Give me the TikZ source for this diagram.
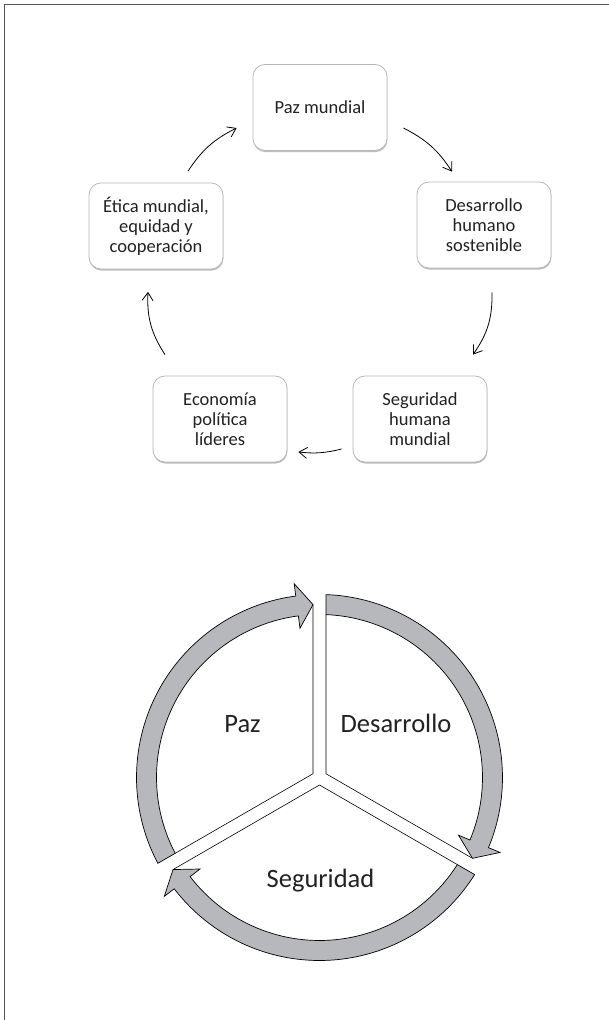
\documentclass[tikz,border=0pt]{standalone}
\usepackage{fontspec}
\setmainfont{Carlito}
\usetikzlibrary{arrows.meta,shadows,calc}
\definecolor{bandgray}{RGB}{183,184,187}
\definecolor{framecol}{RGB}{85,85,85}
\definecolor{txtcol}{RGB}{34,34,34}
\newcommand{\cyclearrow}[4]{%
  \draw[band] (#2:163pt) -- (#1:183pt) arc[start angle=#1, end angle=#3, radius=183pt]
    -- (#3:195.5pt) -- (#4:173pt) -- (#3:150.5pt) -- (#3:163pt)
    arc[start angle=#3, end angle=#2, radius=163pt] -- cycle;}
\begin{document}
\begin{tikzpicture}[x=1pt,y=1pt,
  box/.style={rectangle, rounded corners=12pt, minimum width=134pt, minimum height=86pt,
    inner sep=0pt, align=center, fill=white, draw=black!28, line width=0.8pt,
    text=txtcol, font=\fontsize{18.5}{20}\selectfont,
    drop shadow={shadow xshift=0.4pt, shadow yshift=-1.6pt, fill=black!45, opacity=0.55}},
  arr/.style={draw=black, line width=0.8pt, -{Straight Barb[length=8pt,width=11pt]}},
  band/.style={fill=bandgray, draw=black, line width=0.7pt, line join=miter},
  sect/.style={draw=black, line width=0.6pt},
  big/.style={text=txtcol, font=\fontsize{26.5}{32}\selectfont, anchor=base, inner sep=0pt}]
\useasboundingbox (0,0) rectangle (609,1020);
\fill[white] (0,0) rectangle (609,1020);
\draw[framecol, line width=1.5pt] (4.5,0) -- (4.5,1015.5) -- (609,1015.5);

% upper cycle
\node[box] (paz) at (320,912.5) {Paz mundial};
\node[box] (des) at (484,795) {Desarrollo\\humano\\sostenible};
\node[box] (eti) at (156,794) {Ética mundial,\\equidad y\\cooperación};
\node[box] (eco) at (220,601) {Economía\\política\\líderes};
\node[box] (seg) at (420,601) {Seguridad\\humana\\mundial};

\draw[arr] ($(eti.north)+(32,11.5)$) to[bend left=15] ($(paz.west)+(-16,-20.5)$);
\draw[arr] ($(paz.east)+(16,-20.5)$) to[bend left=15] ($(des.north)+(-32,10)$);
\draw[arr] ($(des.south)+(8,-24)$) to[bend left=18] ($(seg.north)+(53,21)$);
\draw[arr] ($(seg.west)+(-11,-30)$) to[bend left=10] ($(eco.east)+(11,-33)$);
\draw[arr] ($(eco.north)+(-55,21)$) to[bend left=18] ($(eti.south)+(-8,-22.5)$);

% lower cycle
\begin{scope}[shift={(319.5pt,242.5pt)}]
  \draw[sect] (92.15:173pt) -- (-6.5pt,3.75pt) -- (207.71:163pt);
  \draw[sect] (87.71:163pt) -- (6.5pt,3.75pt) -- (-27.85:173pt);
  \draw[sect] (-32.29:163pt) -- (0pt,-7.5pt) -- (-147.85:173pt);
  \cyclearrow{207.96}{207.71}{97.45}{92.15}
  \cyclearrow{87.96}{87.71}{-22.55}{-27.85}
  \cyclearrow{-32.04}{-32.29}{-142.55}{-147.85}
\end{scope}
\node[big] (tpaz) at (242.5,287) {Paz};
\node[big] (tdes) at (396,287) {Desarrollo};
\node[big] (tseg) at (320.5,132) {Seguridad};
\end{tikzpicture}
\end{document}
